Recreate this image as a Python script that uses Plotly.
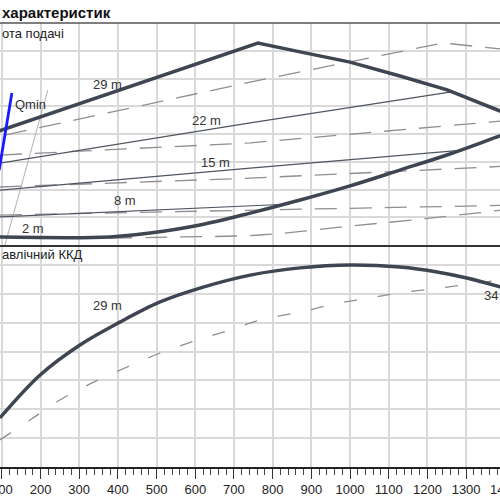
import plotly.graph_objects as go

# ---------------- data ----------------
# top panel: head curves (y units = grid steps)
env_q = [90, 762, 871, 1000, 1129, 1251, 1400]
env_h = [4.10, 7.28, 6.96, 6.59, 6.09, 5.59, 4.76]

low_q = [90, 380, 483, 612, 742, 871, 1000, 1129, 1258, 1388, 1400]
low_h = [0.29, 0.29, 0.43, 0.72, 1.15, 1.62, 2.13, 2.70, 3.28, 3.93, 3.98]

h22_q = [95, 742, 1258]
h22_h = [2.95, 4.40, 5.51]
h15_q = [95, 742, 1292]
h15_h = [1.98, 2.77, 3.42]
h8_q = [95, 819]
h8_h = [1.01, 1.46]

d1_q = [108, 742, 1240, 1400]
d1_h = [3.96, 5.87, 7.28, 7.05]
d2_q = [95, 742, 1362, 1400]
d2_h = [3.24, 3.68, 4.43, 4.48]
d3_q = [95, 742, 1362, 1400]
d3_h = [2.09, 2.41, 2.81, 2.84]
d4_q = [95, 742, 1362, 1400]
d4_h = [1.08, 1.26, 1.41, 1.43]
d5_q = [380, 560, 767, 1000, 1207, 1388, 1400]
d5_h = [0.25, 0.29, 0.36, 0.68, 0.97, 1.26, 1.30]

diag_q = [108, 219]
diag_h = [0.0, 5.59]

qmin_q = [93, 126]
qmin_h = [2.69, 5.48]

# bottom panel: efficiency curves
eff_q = [95, 199, 302, 405, 509, 612, 742, 871, 1000, 1129, 1225, 1302, 1388, 1400]
eff_v = [1.70, 3.19, 4.23, 5.02, 5.72, 6.20, 6.65, 6.90, 7.00, 6.93, 6.76, 6.55, 6.24, 6.19]

effd_q = [95, 173, 250, 328, 418, 509, 599, 690, 767, 871, 961, 1052, 1142, 1233, 1310, 1388]
effd_v = [0.94, 1.63, 2.32, 2.88, 3.43, 3.95, 4.37, 4.75, 5.09, 5.37, 5.65, 5.86, 6.06, 6.20, 6.34, 6.48]

x_ticks = [100, 200, 300, 400, 500, 600, 700, 800, 900, 1000, 1100, 1200, 1300, 1400]

# ---------------- styles ----------------
THICK = "#3d4651"
THIN = "#4d5661"
DASH = "#8f8f8f"
GRID = "#d9d9d9"
FONT = "Liberation Sans, Arial, sans-serif"

fig = go.Figure()

def add(q, v, yax, color, width, dash="solid", shape="linear"):
    fig.add_trace(go.Scatter(x=q, y=v, mode="lines", xaxis="x2" if yax == "y" else "x",
                             yaxis=yax, line=dict(color=color, width=width, dash=dash, shape=shape),
                             hoverinfo="skip", showlegend=False))

# top panel
for q, h in [(d1_q, d1_h), (d2_q, d2_h), (d3_q, d3_h), (d4_q, d4_h)]:
    add(q, h, "y", DASH, 1.3, "22px,13px")
add(d5_q, d5_h, "y", DASH, 1.3, "22px,13px", "spline")
add(diag_q, diag_h, "y", "#b0b0b0", 1)
add(h22_q, h22_h, "y", THIN, 1.2, shape="spline")
add(h15_q, h15_h, "y", THIN, 1.2, shape="spline")
add(h8_q, h8_h, "y", THIN, 1.2)
add(env_q, env_h, "y", THICK, 3.5)
add(low_q, low_h, "y", THICK, 3.5, shape="spline")
add(qmin_q, qmin_h, "y", "#1a1aff", 2.8)

# bottom panel
add(effd_q, effd_v, "y2", DASH, 1.3, "13px,21px", "spline")
add(eff_q, eff_v, "y2", THICK, 3.5, shape="spline")

XR = [95.3, 1387.6]

fig.update_layout(
    width=500, height=500,
    margin=dict(l=0, r=0, t=0, b=0, autoexpand=False),
    paper_bgcolor="white", plot_bgcolor="white",
    font=dict(family=FONT, size=13, color="#2a2a2a"),
    xaxis=dict(range=XR, domain=[0, 1], anchor="y2", tickvals=x_ticks,
               automargin=False,
               showgrid=True, gridcolor=GRID, gridwidth=1.5,
               showline=True, linecolor="#222", linewidth=1.5,
               ticks="outside", ticklen=10, tickwidth=1.3, tickcolor="#333",
               ticklabeloverflow="allow",
               minor=dict(dtick=20, ticks="outside", ticklen=6, tickwidth=1.1,
                          tickcolor="#444", showgrid=False),
               tickfont=dict(size=13, color="#222"), zeroline=False),
    xaxis2=dict(range=XR, domain=[0, 1], anchor="y", matches="x", tickvals=x_ticks,
                automargin=False,
                showgrid=True, gridcolor=GRID, gridwidth=1.5,
                showline=True, linecolor="#333", linewidth=2,
                showticklabels=False, ticks="", zeroline=False),
    yaxis=dict(range=[0, 8], domain=[0.51, 0.954], dtick=1, showgrid=True,
               gridcolor=GRID, gridwidth=1.5, showticklabels=False, automargin=False,
               zeroline=False, showline=False, anchor="x2"),
    yaxis2=dict(range=[0, 7.693], domain=[0.066, 0.51], dtick=1, showgrid=True,
                gridcolor=GRID, gridwidth=1.5, showticklabels=False, automargin=False,
                zeroline=False, showline=False, anchor="x"),
    shapes=[dict(type="line", xref="paper", yref="y domain", x0=0, x1=1, y0=1, y1=1,
                 line=dict(color="#555", width=1.5))],
)

def label(text, q, v, yref, xanchor="center", size=13, color="#333"):
    fig.add_annotation(text=text, x=q, y=v, xref="x2" if yref == "y" else "x", yref=yref,
                       showarrow=False, xanchor=xanchor, yanchor="middle",
                       font=dict(size=size, color=color, family=FONT))

label("29 m", 374, 5.80, "y")
label("22 m", 628, 4.50, "y")
label("15 m", 651, 2.99, "y")
label("8 m", 418, 1.59, "y")
label("2 m", 181, 0.61, "y")
label("Qmin", 175, 5.05, "y")
label("29 m", 374, 5.61, "y2")
label("34", 1387.6, 5.93, "y2", xanchor="right")

# last tick label (1400) lies just past the visible range; shown partially like the reference
last_tick = x_ticks[-1]
fig.add_annotation(text=str(last_tick), x=(last_tick - XR[0]) / (XR[1] - XR[0]), y=1 - 489 / 500,
                   xref="paper", yref="paper", xanchor="center", yanchor="middle",
                   showarrow=False, font=dict(size=13, color="#222", family=FONT))

fig.add_annotation(text="<b>характеристик</b>", x=0, y=1 - 12 / 500, xref="paper", yref="paper",
                   xanchor="left", yanchor="middle", showarrow=False,
                   font=dict(size=15, color="#111", family=FONT))
fig.add_annotation(text="ота подачі", x=0, y=1 - 33 / 500, xref="paper", yref="paper",
                   xanchor="left", yanchor="middle", showarrow=False,
                   font=dict(size=13, color="#222", family=FONT))
fig.add_annotation(text="авлічний ККД", x=0, y=1 - 254 / 500, xref="paper", yref="paper",
                   xanchor="left", yanchor="middle", showarrow=False,
                   font=dict(size=13, color="#222", family=FONT))

fig.write_html("out.html")
